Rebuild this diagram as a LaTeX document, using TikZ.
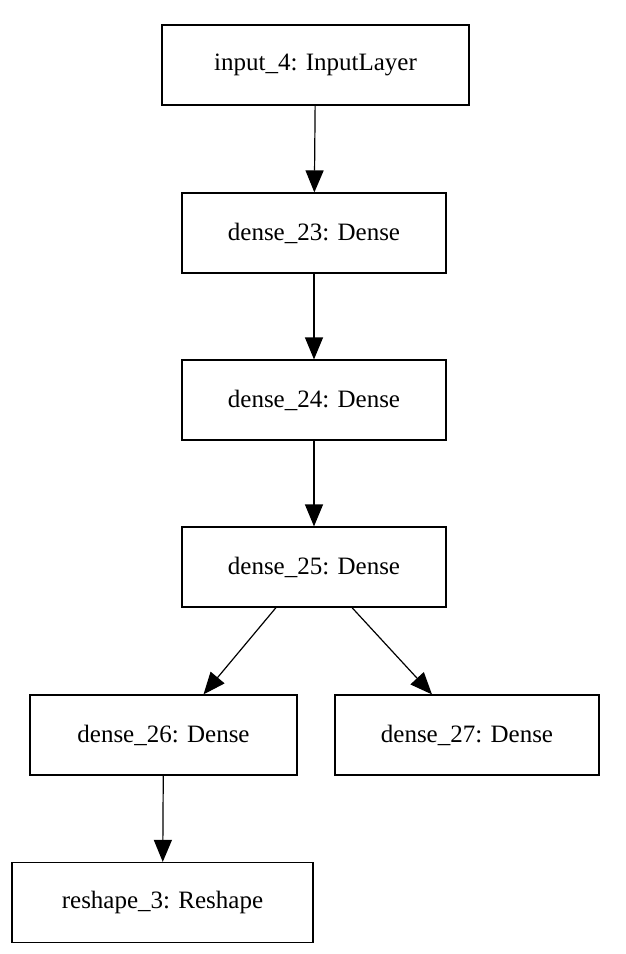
\documentclass[tikz,border=0pt]{standalone}
\usepackage{fontspec}
\setmainfont{Liberation Serif}
\usetikzlibrary{calc,arrows.meta}
\begin{document}
\begin{tikzpicture}[x=1pt,y=-1pt,
  box/.style={draw,line width=1.2pt,minimum height=80pt,inner sep=0pt,font=\fontsize{25}{30}\selectfont},
  arr/.style={line width=1.2pt,-{Triangle[length=22pt,width=18pt]}}]
\useasboundingbox (0,0) rectangle (626,954);
\node[box,minimum width=307pt] (in) at (315.5,65) {input\_4: InputLayer};
\node[box,minimum width=264pt] (d23) at (314,233) {dense\_23: Dense};
\node[box,minimum width=264pt] (d24) at (314,400) {dense\_24: Dense};
\node[box,minimum width=264pt] (d25) at (314,567) {dense\_25: Dense};
\node[box,minimum width=267pt] (d26) at (163.5,735) {dense\_26: Dense};
\node[box,minimum width=264pt] (d27) at (467,735) {dense\_27: Dense};
\node[box,minimum width=301pt] (r3) at (162.5,902.5) {reshape\_3: Reshape};
\draw[arr] (in) -- (d23);
\draw[arr] (d23) -- (d24);
\draw[arr] (d24) -- (d25);
\draw[arr] ($(d25.south)+(-38,0)$) -- ($(d26.north)+(40,0)$);
\draw[arr] ($(d25.south)+(38,0)$) -- ($(d27.north)+(-35,0)$);
\draw[arr] (d26) -- (r3);
\end{tikzpicture}
\end{document}
